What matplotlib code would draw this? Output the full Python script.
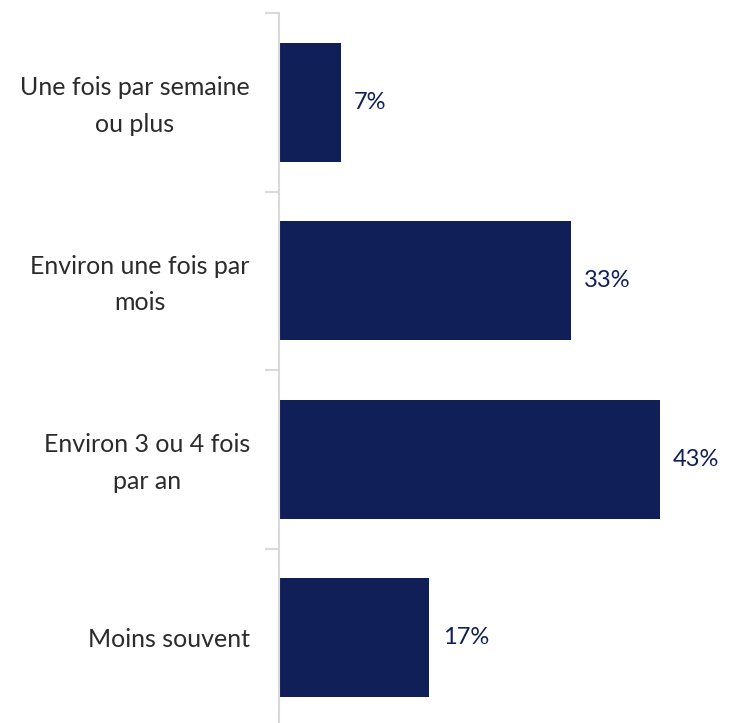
import matplotlib
matplotlib.use("Agg")
import matplotlib.pyplot as plt
from matplotlib.ticker import FixedLocator
from matplotlib.transforms import ScaledTranslation

# données
categories = ["Une fois par semaine\nou plus", "Environ une fois par\nmois",
              "Environ 3 ou 4 fois\npar an", "Moins souvent"]
values = [7, 33, 43, 17]

navy = "#111f58"
grid_gray = "#d9d9d9"

plt.rcParams['font.family'] = ['Lato', 'DejaVu Sans']

fig = plt.figure(figsize=(7.33, 7.23), dpi=100)
ax = fig.add_axes([279 / 733, -4 / 723, 454 / 733, 714 / 723])

y = list(range(len(categories)))
ax.barh(y, values, height=0.667, color=navy)
ax.set_ylim(len(categories) - 0.5, -0.5)
ax.set_xlim(0, 454 / 8.85)

# étiquettes de valeurs
for yi, v in zip(y, values):
    ax.text(v + 1.5, yi, f"{v}%", va="center", ha="left", fontsize=17, color=navy)

ax.set_yticks(y)
ax.set_yticklabels(categories, fontsize=18, color="#2b2b2b",
                   multialignment="center", linespacing=1.7)
ax.tick_params(axis="y", which="major", length=0, pad=21)
ax.yaxis.set_minor_locator(FixedLocator([i - 0.5 for i in range(len(categories) + 1)]))
ax.tick_params(axis="y", which="minor", length=10, width=1.5, color=grid_gray)
ax.set_xticks([])

# remonter un peu les libellés sur deux lignes
for lab in ax.get_yticklabels():
    if "\n" in lab.get_text():
        lab.set_transform(lab.get_transform() + ScaledTranslation(0, 0.05, fig.dpi_scale_trans))

for s in ["top", "right", "bottom"]:
    ax.spines[s].set_visible(False)
ax.spines["left"].set_color(grid_gray)
ax.spines["left"].set_linewidth(1.5)

fig.savefig("out.png", dpi=100)
